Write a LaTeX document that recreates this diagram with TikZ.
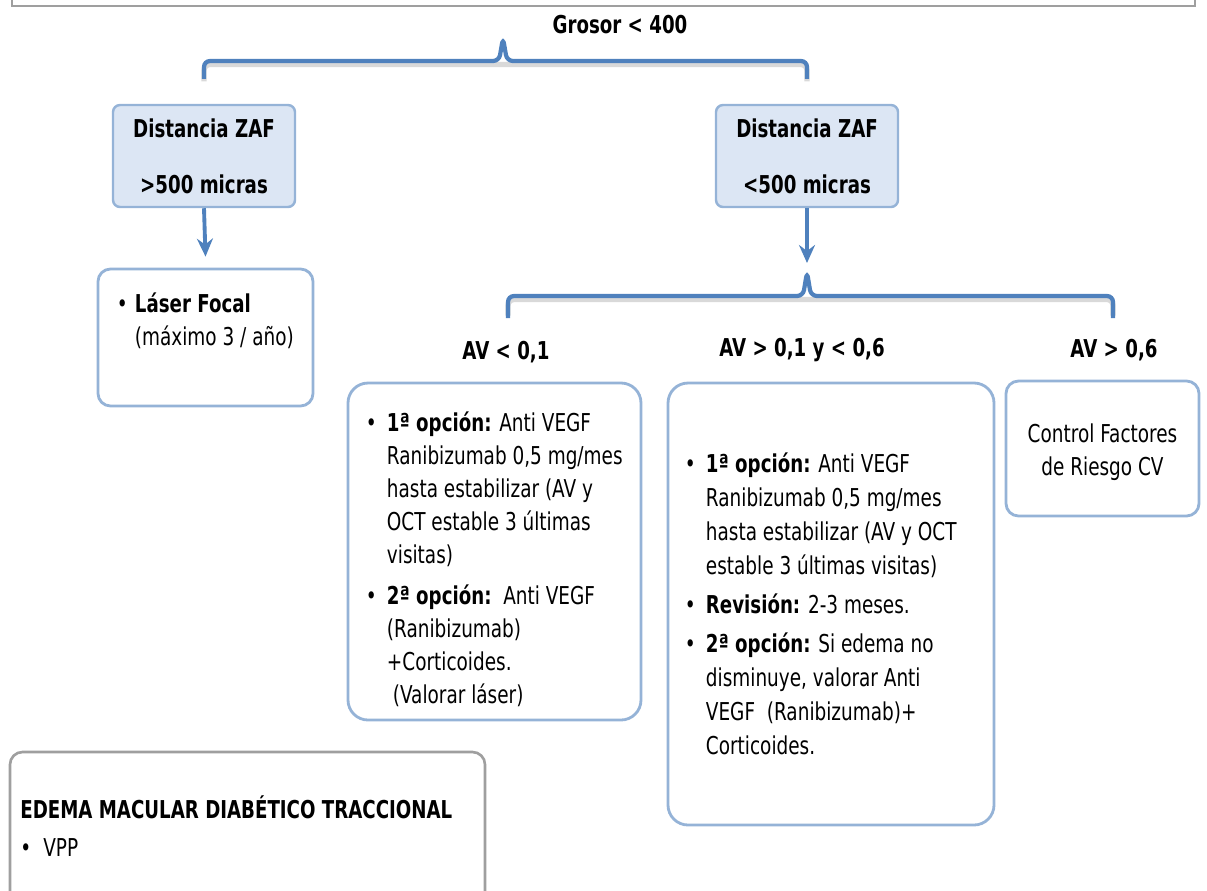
\documentclass[tikz,border=0pt]{standalone}
\usepackage{fontspec}
\setmainfont{DejaVu Sans}[FakeStretch=0.75, BoldFeatures={FakeStretch=0.74}]
\usepackage{xcolor}
\usepackage{tikz}
\usetikzlibrary{arrows.meta, positioning, shadows}

\definecolor{azul}{HTML}{4F81BD}
\definecolor{borde}{HTML}{95B3D7}
\definecolor{relleno}{HTML}{DCE6F4}

\newcommand{\bl}{\makebox[0.42cm][l]{•}}
\newcommand{\ind}{\hspace*{0.42cm}}

\begin{document}
\begin{tikzpicture}[
    caja/.style    = {draw=borde, line width=1.6pt, rounded corners=0.4cm,
                      fill=white, inner sep=0pt},
    zaf/.style     = {draw=borde, line width=1.4pt, rounded corners=4pt,
                      fill=relleno, minimum width=3.64cm, minimum height=2.04cm,
                      align=center, font=\fontsize{14}{18}\selectfont\bfseries},
    titulo/.style  = {font=\fontsize{14}{18}\selectfont\bfseries},
    txt/.style     = {align=left, inner sep=0pt, font=\fontsize{14}{18.7}\selectfont},
    flecha/.style  = {-{Stealth[length=0.36cm, width=0.32cm, inset=0.12cm]},
                      line width=2.2pt, draw=azul},
    llave/.style   = {line width=2.4pt, draw=azul, rounded corners=0.12cm},
    sombra/.style  = {line width=3pt, draw=black!15, rounded corners=0.12cm},
    marco/.style   = {draw=gray!75, line width=1.5pt},
]
    \useasboundingbox (0,0) rectangle (24.14,-17.8);

    % ── Marco superior (cortado) ──
    \draw[marco] (0.24,1) rectangle (23.9,-0.12);

    % ── Grosor ──
    \node[titulo] (grosor) at (12.4,-0.5) {Grosor < 400};
    \coordinate (b1) at (10.06,-0.76);

    % ── Distancia ZAF ──
    \node[zaf] (zaf1) at (4.08,-3.12) {Distancia ZAF\\[14pt]>500 micras};
    \node[zaf] (zaf2) at (16.14,-3.12) {Distancia ZAF\\[14pt]<500 micras};

    \draw[sombra, yshift=-0.07cm] ([yshift=0.45cm]zaf1.north) |- ([xshift=-0.08cm]b1 |- 0,-1.22) -- ([xshift=0.08cm]b1 |- 0,-1.22) -| ([yshift=0.45cm]zaf2.north);
    \draw[llave] ([yshift=0.5cm]zaf1.north) |- ([xshift=-0.08cm]b1 |- 0,-1.22) -- (b1) -- ([xshift=0.08cm]b1 |- 0,-1.22) -| ([yshift=0.5cm]zaf2.north);

    % ── Laser focal ──
    \node[caja, rounded corners=0.25cm, minimum width=4.3cm, minimum height=2.74cm] (laser) at (4.11,-6.75) {};
    \node[txt, anchor=north west] (laserTxt) at ([shift={(0.4,-0.5)}]laser.north west)
        {\makebox[0.36cm][l]{•}\textbf{Láser Focal}\\ \hspace*{0.36cm}(máximo 3 / año)};
    \draw[flecha] (zaf1.south) -- ([yshift=0.22cm]laser.north);

    % ── Segunda llave ──
    \coordinate (b2) at (16.14,-5.44);
    \coordinate (b2L) at (10.16,-6.36);
    \coordinate (b2R) at (22.26,-6.36);
    \draw[flecha, shorten >=0.18cm] (zaf2.south) -- (b2);
    \draw[sombra, yshift=-0.07cm] ([yshift=0.05cm]b2L) |- ([xshift=-0.08cm]b2 |- 0,-5.92) -- ([xshift=0.08cm]b2 |- 0,-5.92) -| ([yshift=0.05cm]b2R);
    \draw[llave] (b2L) |- ([xshift=-0.08cm]b2 |- 0,-5.92) -- (b2) -- ([xshift=0.08cm]b2 |- 0,-5.92) -| (b2R);

    % ── Agudeza visual ──
    \node[titulo] (avA) at (10.12,-7.04) {AV < 0,1};
    \node[titulo] (avB) at (16.04,-7.0) {AV > 0,1 y < 0,6};
    \node[titulo] (avC) at (22.28,-7.0) {AV > 0,6};

    % ── Cajas de tratamiento ──
    \node[caja, minimum width=5.86cm, minimum height=6.74cm] (cajaA) at (9.89,-11.03) {};
    \node[txt, anchor=north west] (txtA) at ([shift={(0.38,-0.6)}]cajaA.north west)
        {\bl\textbf{1ª opción:} Anti VEGF\\
         \ind Ranibizumab 0,5 mg/mes\\
         \ind hasta estabilizar (AV y\\
         \ind OCT estable 3 últimas\\
         \ind visitas)\\[5pt]
         \bl\textbf{2ª opción:}\ \ Anti VEGF\\
         \ind (Ranibizumab)\\
         \ind +Corticoides.\\
         \ind\ (Valorar láser)};

    \node[caja, minimum width=6.52cm, minimum height=8.84cm] (cajaB) at (16.62,-12.08) {};
    \node[txt, anchor=north west, font=\fontsize{14}{19.3}\selectfont] (txtB) at ([shift={(0.36,-1.42)}]cajaB.north west)
        {\bl\textbf{1ª opción:} Anti VEGF\\
         \ind Ranibizumab 0,5 mg/mes\\
         \ind hasta estabilizar (AV y OCT\\
         \ind estable 3 últimas visitas)\\[3pt]
         \bl\textbf{Revisión:} 2-3 meses.\\[3pt]
         \bl\textbf{2ª opción:} Si edema no\\
         \ind disminuye, valorar Anti\\
         \ind VEGF\ \ (Ranibizumab)+\\
         \ind Corticoides.};

    \node[caja, rounded corners=0.25cm, minimum width=3.86cm, minimum height=2.7cm] (cajaC) at (22.05,-8.97) {};
    \node[txt, align=center] (txtC) at ([yshift=-0.08cm]cajaC.center) {Control Factores\\de Riesgo CV};

    % ── Edema traccional ──
    \draw[marco, rounded corners=0.25cm] (0.2,-18.4) |- (9.7,-15.04) -- (9.7,-18.4);
    \coordinate (tracc) at (0.2,-15.04);
    \node[txt, anchor=north west] (txtD) at ([shift={(0.2,-0.86)}]tracc)
        {\textbf{EDEMA MACULAR DIABÉTICO TRACCIONAL}\\[3pt]
         \makebox[0.46cm][l]{•}VPP};

\end{tikzpicture}
\end{document}
